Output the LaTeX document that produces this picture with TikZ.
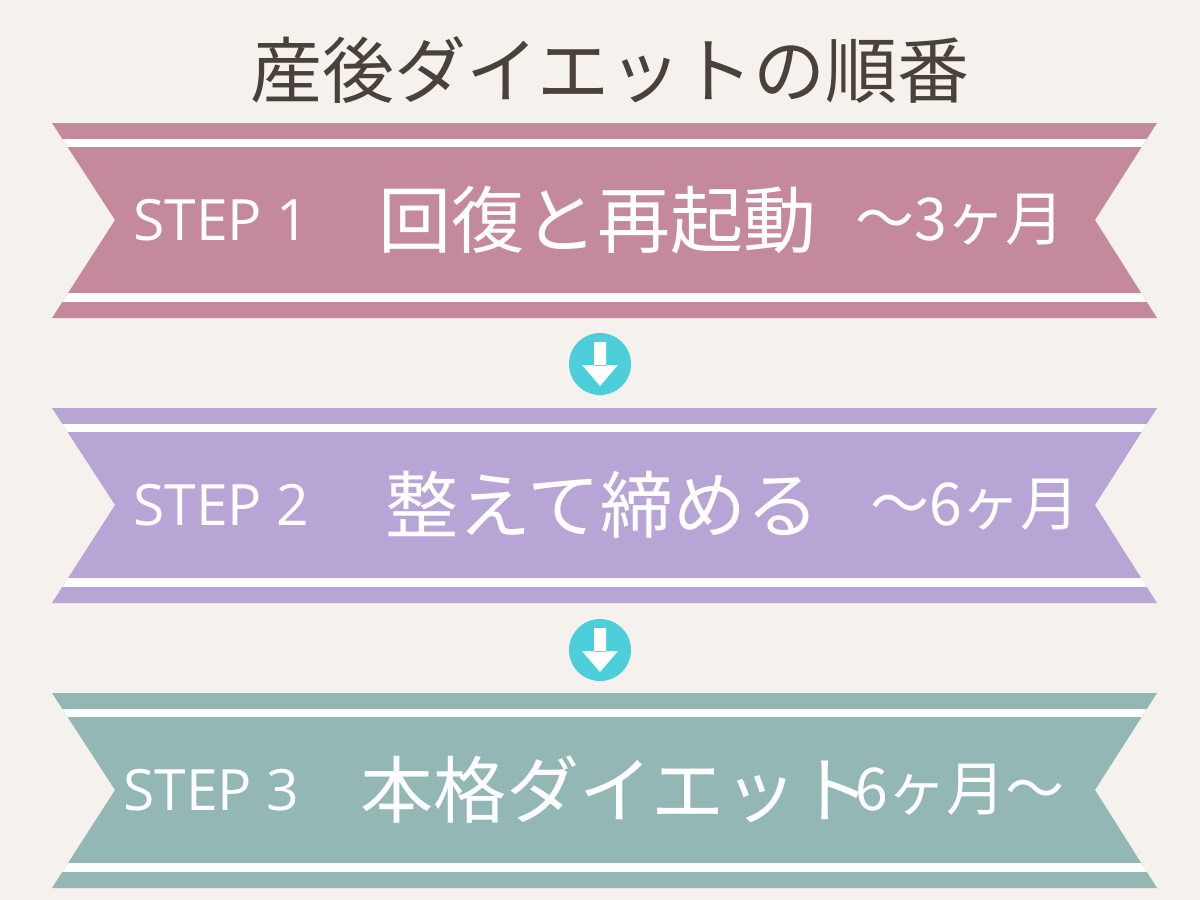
\documentclass[tikz,border=0pt]{standalone}
\usepackage{fontspec}
\setmainfont{Noto Sans CJK JP}
\newfontfamily\jp{Noto Sans CJK JP}
\newfontfamily\lat{Open Sans}
\definecolor{bg}{HTML}{F5F1EC}
\definecolor{pinkb}{HTML}{C48A9C}
\definecolor{lavb}{HTML}{B7A5D6}
\definecolor{tealb}{HTML}{92B7B4}
\definecolor{cyanc}{HTML}{4DCFDB}
\definecolor{titlec}{HTML}{4A403C}
\tikzset{
  steplbl/.style={text=white,anchor=west,inner sep=0,font=\lat\fontsize{57}{57}\selectfont},
  mainlbl/.style={text=white,anchor=west,inner sep=0,font=\jp\fontsize{73}{73}\selectfont},
  durlbl/.style={text=white,anchor=west,inner sep=0,font=\jp\fontsize{59}{59}\selectfont},
}
\newcommand{\bannerdraw}[2]{%
  \begin{scope}[shift={(0,#1)}]
  \path[fill=#2] (52,123)--(1157,123)--(1095,220)--(1157,318)--(52,318)--(115,220)--cycle;
  \begin{scope}
  \clip (52,123)--(1157,123)--(1095,220)--(1157,318)--(52,318)--(115,220)--cycle;
  \fill[white] (0,139) rectangle (1200,147);
  \fill[white] (0,293) rectangle (1200,302);
  \end{scope}
  \end{scope}}
\newcommand{\downarrowc}[2]{%
  \node[circle,fill=cyanc,minimum size=62pt,inner sep=0] (#1) at (600,#2) {};
  \fill[white] (594,#2-22) rectangle (606,#2+2) (582,#2+1)--(618,#2+1)--(600,#2+22)--cycle;}
\begin{document}
\begin{tikzpicture}[x=1pt,y=-1pt]
\fill[bg] (0,0) rectangle (1200,900);
\node[text=titlec,font=\jp\fontsize{72}{72}\selectfont,inner sep=0] (title) at (610,70) {産後ダイエットの順番};
\bannerdraw{0}{pinkb}
\bannerdraw{285}{lavb}
\bannerdraw{570}{tealb}
\node[steplbl] (s1) at (133,220) {STEP 1};
\node[mainlbl] (m1) at (378,220) {回復と再起動};
\node[durlbl] (d1) at (855,220) {〜3ヶ月};
\node[steplbl] (s2) at (133,505) {STEP 2};
\node[mainlbl] (m2) at (385,505) {整えて締める};
\node[durlbl] (d2) at (870,505) {〜6ヶ月};
\node[steplbl] (s3) at (123,790) {STEP 3};
\node[mainlbl] (m3) at (360,790) {本格ダイエット};
\node[durlbl] (d3) at (855,790) {6ヶ月〜};
\downarrowc{c1}{364}
\downarrowc{c2}{650}
\end{tikzpicture}
\end{document}
